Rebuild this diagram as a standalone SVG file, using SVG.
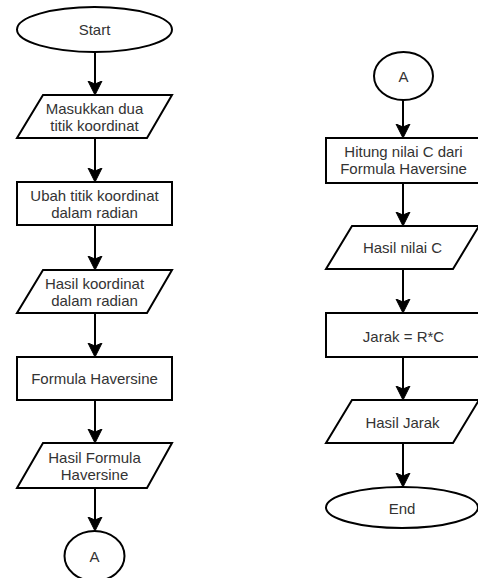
<svg xmlns="http://www.w3.org/2000/svg" width="478" height="578" viewBox="0 0 478 578">
<style>
.s{fill:#fff;stroke:#000;stroke-width:2}
.t{font-family:"Liberation Sans",Arial,sans-serif;font-size:15px;fill:#333;text-anchor:middle}
.c{fill:none;stroke:#000;stroke-width:2}
</style>
<defs>
<marker id="ah" markerUnits="userSpaceOnUse" markerWidth="16" markerHeight="16" viewBox="0 -8 16 16" refX="12" refY="0" orient="auto">
<path d="M0,-7 L14,0 L0,7 L3,0 Z" fill="#000" stroke="#000" stroke-width="1"/>
</marker>
</defs>
<rect width="478" height="578" fill="#fff"/>
<g id="connectors">
<line class="c" x1="95" y1="52" x2="95" y2="93" marker-end="url(#ah)"/>
<line class="c" x1="95" y1="138" x2="95" y2="180" marker-end="url(#ah)"/>
<line class="c" x1="95" y1="225" x2="95" y2="268" marker-end="url(#ah)"/>
<line class="c" x1="95" y1="313" x2="95" y2="355" marker-end="url(#ah)"/>
<line class="c" x1="95" y1="400" x2="95" y2="441" marker-end="url(#ah)"/>
<line class="c" x1="95" y1="488" x2="95" y2="529" marker-end="url(#ah)"/>
<line class="c" x1="403" y1="100" x2="403" y2="136" marker-end="url(#ah)"/>
<line class="c" x1="403" y1="183" x2="403" y2="224" marker-end="url(#ah)"/>
<line class="c" x1="403" y1="269" x2="403" y2="311" marker-end="url(#ah)"/>
<line class="c" x1="403" y1="357" x2="403" y2="398" marker-end="url(#ah)"/>
<line class="c" x1="403" y1="443" x2="403" y2="485" marker-end="url(#ah)"/>
</g>
<g id="start">
<ellipse class="s" cx="94.5" cy="29.5" rx="77.5" ry="22.5"/>
<text class="t" x="94.5" y="35">Start</text>
</g>
<g id="input-koordinat">
<polygon class="s" points="43,95 172,95 147,138 17,138"/>
<text class="t" x="94.5" y="114">Masukkan dua</text>
<text class="t" x="94.5" y="131">titik koordinat</text>
</g>
<g id="ubah-radian">
<rect class="s" x="17" y="182" width="155" height="43"/>
<text class="t" x="94.5" y="201">Ubah titik koordinat</text>
<text class="t" x="94.5" y="218">dalam radian</text>
</g>
<g id="hasil-radian">
<polygon class="s" points="43,270 172,270 147,313 17,313"/>
<text class="t" x="94.5" y="289">Hasil koordinat</text>
<text class="t" x="94.5" y="306">dalam radian</text>
</g>
<g id="formula">
<rect class="s" x="17" y="357" width="155" height="43"/>
<text class="t" x="94.5" y="384">Formula Haversine</text>
</g>
<g id="hasil-formula">
<polygon class="s" points="43,443 172,443 147,488 17,488"/>
<text class="t" x="94.5" y="463">Hasil Formula</text>
<text class="t" x="94.5" y="480">Haversine</text>
</g>
<g id="connector-a-out">
<ellipse class="s" cx="94.5" cy="556" rx="30" ry="25"/>
<text class="t" x="94.5" y="562">A</text>
</g>
<g id="connector-a-in">
<ellipse class="s" cx="403.5" cy="76" rx="29.5" ry="24"/>
<text class="t" x="403.5" y="82">A</text>
</g>
<g id="hitung-c">
<rect class="s" x="326" y="138" width="155" height="45"/>
<text class="t" x="403.5" y="157">Hitung nilai C dari</text>
<text class="t" x="403.5" y="174">Formula Haversine</text>
</g>
<g id="hasil-c">
<polygon class="s" points="352,226 479,226 453,269 326,269"/>
<text class="t" x="402.5" y="253">Hasil nilai C</text>
</g>
<g id="jarak">
<rect class="s" x="326" y="313" width="155" height="44"/>
<text class="t" x="403.5" y="342">Jarak = R*C</text>
</g>
<g id="hasil-jarak">
<polygon class="s" points="352,400 479,400 453,443 326,443"/>
<text class="t" x="402.5" y="428">Hasil Jarak</text>
</g>
<g id="end">
<ellipse class="s" cx="402" cy="507.5" rx="76" ry="20.5"/>
<text class="t" x="402" y="514">End</text>
</g>
</svg>
